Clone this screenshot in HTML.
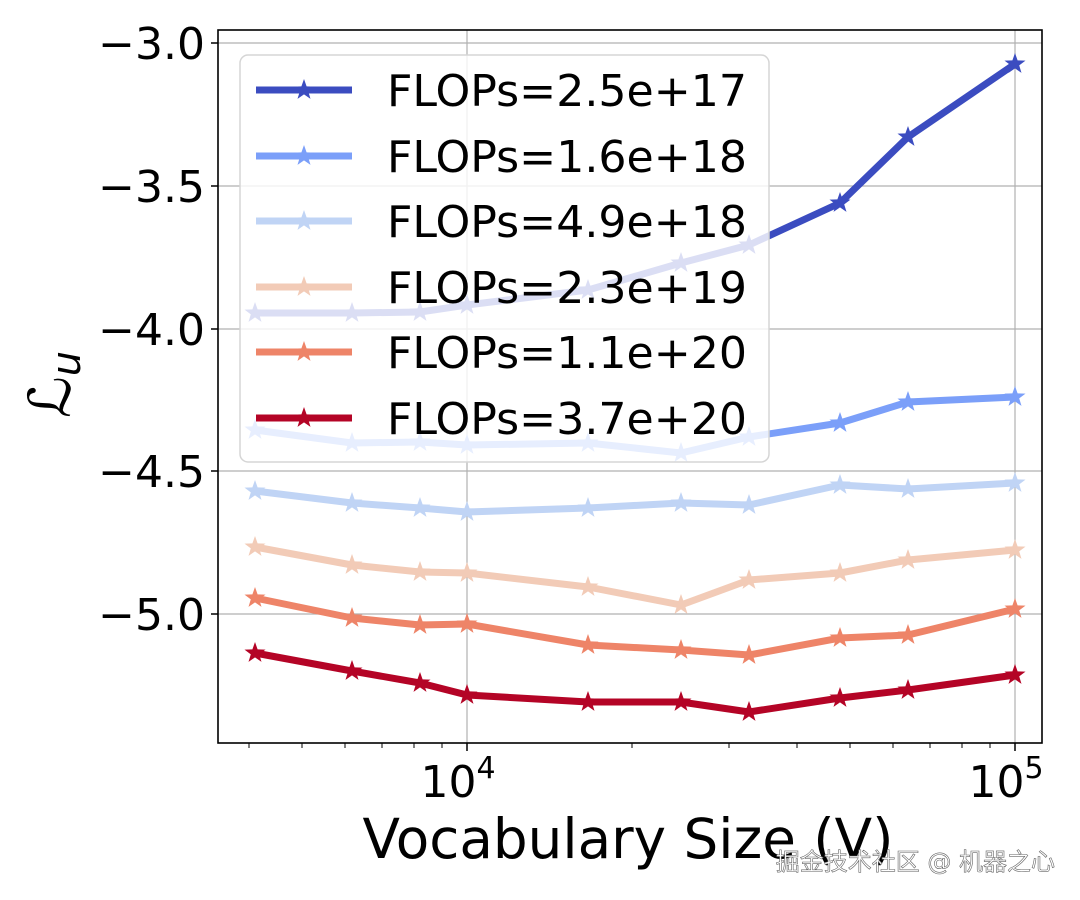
<!DOCTYPE html>
<html><head><meta charset="utf-8"><style>
html,body{margin:0;padding:0;background:#fff;width:1080px;height:900px;overflow:hidden}
svg text{font-family:"DejaVu Sans","Liberation Sans",sans-serif}
</style></head><body>
<svg width="1080" height="900" viewBox="0 0 1080 900" xmlns="http://www.w3.org/2000/svg">
<defs>
<path id="st" d="M0,-11 L2.6,-3.6 L10.5,-3.4 L4.2,1.4 L6.5,8.9 L0,4.4 L-6.5,8.9 L-4.2,1.4 L-10.5,-3.4 L-2.6,-3.6 Z"/>
</defs>
<rect x="0" y="0" width="1080" height="900" fill="#fff"/>
<g stroke="#b0b0b0" stroke-width="1.2">
<line x1="467" y1="30" x2="467" y2="743"/>
<line x1="1015" y1="30" x2="1015" y2="743"/>
<line x1="218" y1="43" x2="1042" y2="43"/>
<line x1="218" y1="186" x2="1042" y2="186"/>
<line x1="218" y1="329" x2="1042" y2="329"/>
<line x1="218" y1="471" x2="1042" y2="471"/>
<line x1="218" y1="614" x2="1042" y2="614"/>
</g>
<g fill="none" stroke-width="7" stroke-linejoin="round">
<polyline stroke="#3b4cc0" points="255,313 352,313 420,312 467,305 588,290 681,263 749,245 840,203 908,137 1015,64"/>
<polyline stroke="#7b9ff9" points="255,430 352,443 420,442 467,445 588,443 681,453 749,437 840,423 908,402 1015,397"/>
<polyline stroke="#c0d4f5" points="255,491 352,503 420,508 467,512 588,508 681,503 749,505 840,485 908,489 1015,483"/>
<polyline stroke="#f2cbb7" points="255,547 352,565 420,572 467,573 588,587 681,605 749,580 840,573 908,560 1015,550"/>
<polyline stroke="#ee8468" points="255,598 352,618 420,625 467,624 588,645 681,650 749,655 840,638 908,635 1015,609"/>
<polyline stroke="#b40426" points="255,653 352,671 420,683 467,695 588,702 681,702 749,712 840,698 908,690 1015,675"/>
</g>
<g fill="#3b4cc0"><use href="#st" x="255" y="313"/><use href="#st" x="352" y="313"/><use href="#st" x="420" y="312"/><use href="#st" x="467" y="305"/><use href="#st" x="588" y="290"/><use href="#st" x="681" y="263"/><use href="#st" x="749" y="245"/><use href="#st" x="840" y="203"/><use href="#st" x="908" y="137"/><use href="#st" x="1015" y="64"/></g>
<g fill="#7b9ff9"><use href="#st" x="255" y="430"/><use href="#st" x="352" y="443"/><use href="#st" x="420" y="442"/><use href="#st" x="467" y="445"/><use href="#st" x="588" y="443"/><use href="#st" x="681" y="453"/><use href="#st" x="749" y="437"/><use href="#st" x="840" y="423"/><use href="#st" x="908" y="402"/><use href="#st" x="1015" y="397"/></g>
<g fill="#c0d4f5"><use href="#st" x="255" y="491"/><use href="#st" x="352" y="503"/><use href="#st" x="420" y="508"/><use href="#st" x="467" y="512"/><use href="#st" x="588" y="508"/><use href="#st" x="681" y="503"/><use href="#st" x="749" y="505"/><use href="#st" x="840" y="485"/><use href="#st" x="908" y="489"/><use href="#st" x="1015" y="483"/></g>
<g fill="#f2cbb7"><use href="#st" x="255" y="547"/><use href="#st" x="352" y="565"/><use href="#st" x="420" y="572"/><use href="#st" x="467" y="573"/><use href="#st" x="588" y="587"/><use href="#st" x="681" y="605"/><use href="#st" x="749" y="580"/><use href="#st" x="840" y="573"/><use href="#st" x="908" y="560"/><use href="#st" x="1015" y="550"/></g>
<g fill="#ee8468"><use href="#st" x="255" y="598"/><use href="#st" x="352" y="618"/><use href="#st" x="420" y="625"/><use href="#st" x="467" y="624"/><use href="#st" x="588" y="645"/><use href="#st" x="681" y="650"/><use href="#st" x="749" y="655"/><use href="#st" x="840" y="638"/><use href="#st" x="908" y="635"/><use href="#st" x="1015" y="609"/></g>
<g fill="#b40426"><use href="#st" x="255" y="653"/><use href="#st" x="352" y="671"/><use href="#st" x="420" y="683"/><use href="#st" x="467" y="695"/><use href="#st" x="588" y="702"/><use href="#st" x="681" y="702"/><use href="#st" x="749" y="712"/><use href="#st" x="840" y="698"/><use href="#st" x="908" y="690"/><use href="#st" x="1015" y="675"/></g>
<rect x="240" y="55" width="529" height="407" rx="8" fill="#fff" fill-opacity="0.82" stroke="#d5d5d5" stroke-width="1.5"/>
<g stroke-width="7">
<line x1="256" y1="90" x2="352" y2="90" stroke="#3b4cc0"/>
<line x1="256" y1="156" x2="352" y2="156" stroke="#7b9ff9"/>
<line x1="256" y1="221" x2="352" y2="221" stroke="#c0d4f5"/>
<line x1="256" y1="287" x2="352" y2="287" stroke="#f2cbb7"/>
<line x1="256" y1="352" x2="352" y2="352" stroke="#ee8468"/>
<line x1="256" y1="418" x2="352" y2="418" stroke="#b40426"/>
</g>
<use href="#st" x="304" y="90" fill="#3b4cc0"/><use href="#st" x="304" y="156" fill="#7b9ff9"/><use href="#st" x="304" y="221" fill="#c0d4f5"/><use href="#st" x="304" y="287" fill="#f2cbb7"/><use href="#st" x="304" y="352" fill="#ee8468"/><use href="#st" x="304" y="418" fill="#b40426"/>
<g font-size="44" fill="#000">
<text x="387" y="106" textLength="360" lengthAdjust="spacingAndGlyphs">FLOPs=2.5e+17</text>
<text x="387" y="172" textLength="360" lengthAdjust="spacingAndGlyphs">FLOPs=1.6e+18</text>
<text x="387" y="237" textLength="360" lengthAdjust="spacingAndGlyphs">FLOPs=4.9e+18</text>
<text x="387" y="303" textLength="360" lengthAdjust="spacingAndGlyphs">FLOPs=2.3e+19</text>
<text x="387" y="368" textLength="360" lengthAdjust="spacingAndGlyphs">FLOPs=1.1e+20</text>
<text x="387" y="434" textLength="360" lengthAdjust="spacingAndGlyphs">FLOPs=3.7e+20</text>
</g>
<rect x="218" y="30" width="824" height="713" fill="none" stroke="#000" stroke-width="1.6"/>
<g stroke="#000" stroke-width="1.5">
<line x1="211" y1="43" x2="218" y2="43"/><line x1="211" y1="186" x2="218" y2="186"/><line x1="211" y1="329" x2="218" y2="329"/><line x1="211" y1="471" x2="218" y2="471"/><line x1="211" y1="614" x2="218" y2="614"/>
<line x1="467" y1="743" x2="467" y2="751"/><line x1="1015" y1="743" x2="1015" y2="751"/>
</g>
<g stroke="#000" stroke-width="1">
<line x1="249" y1="743" x2="249" y2="748"/><line x1="302" y1="743" x2="302" y2="748"/><line x1="345" y1="743" x2="345" y2="748"/><line x1="382" y1="743" x2="382" y2="748"/><line x1="414" y1="743" x2="414" y2="748"/><line x1="442" y1="743" x2="442" y2="748"/>
<line x1="632" y1="743" x2="632" y2="748"/><line x1="729" y1="743" x2="729" y2="748"/><line x1="797" y1="743" x2="797" y2="748"/><line x1="850" y1="743" x2="850" y2="748"/><line x1="893" y1="743" x2="893" y2="748"/><line x1="930" y1="743" x2="930" y2="748"/><line x1="962" y1="743" x2="962" y2="748"/><line x1="990" y1="743" x2="990" y2="748"/>
</g>
<g font-size="44" fill="#000" text-anchor="end">
<text x="205" y="59">−3.0</text><text x="205" y="202">−3.5</text><text x="205" y="345">−4.0</text><text x="205" y="487">−4.5</text><text x="205" y="630">−5.0</text>
</g>
<g font-size="44" fill="#000" text-anchor="middle">
<text x="458" y="797">10<tspan font-size="30" dy="-19">4</tspan></text>
<text x="1006" y="797">10<tspan font-size="30" dy="-19">5</tspan></text>
</g>
<text x="628" y="858" font-size="55" text-anchor="middle" fill="#000" textLength="531" lengthAdjust="spacingAndGlyphs">Vocabulary Size (V)</text>
<text transform="translate(70,418) rotate(-90)" font-size="58" font-style="italic" font-family="Liberation Serif,serif" fill="#000">ℒ<tspan font-size="40" dy="10">u</tspan></text>
<text x="1055" y="870" font-size="24" text-anchor="end" fill="#fff" stroke="#666" stroke-width="0.6" font-family="Liberation Sans,Noto Sans CJK SC,sans-serif">掘金技术社区 @ 机器之心</text>
</svg>
</body></html>
